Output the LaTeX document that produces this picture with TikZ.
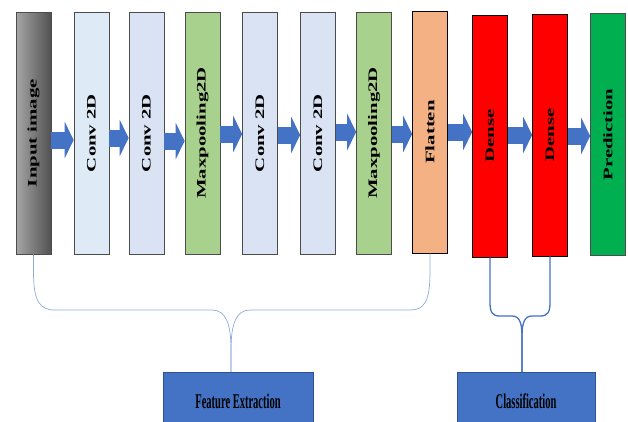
\documentclass[tikz,border=0pt]{standalone}
\usepackage{fontspec}
\usepackage{graphicx}
\usepackage{tikz}
\usetikzlibrary{arrows.meta}
\newfontfamily\lblfont[FakeStretch=1.6]{Liberation Serif}
\newfontfamily\boxfont[FakeStretch=0.5]{Liberation Serif}
\definecolor{convA}{HTML}{DEEBF7}
\definecolor{convB}{HTML}{DAE3F3}
\definecolor{poolgreen}{HTML}{A9D18E}
\definecolor{flatorange}{HTML}{F4B183}
\definecolor{predgreen}{HTML}{00B050}
\definecolor{arrowblue}{HTML}{4472C4}
\definecolor{braceblue}{HTML}{8FAADC}
\definecolor{edgeblue}{HTML}{2F528F}
\newcommand{\vtext}[1]{\rotatebox{90}{\lblfont\bfseries\fontsize{13}{15}\selectfont #1}}
\tikzstyle{layer} = [draw=black!70,line width=0.6pt,minimum width=35pt,minimum height=242pt,inner sep=0pt]
\tikzstyle{flow} = [draw=arrowblue,line width=17pt,-{Triangle[length=9pt,width=36pt]}]
\tikzstyle{brace} = [draw=braceblue,line width=0.7pt]
\tikzstyle{cbrace} = [draw=arrowblue,line width=1.3pt]
\tikzstyle{part} = [fill=arrowblue,draw=edgeblue,line width=0.5pt,minimum width=150pt,minimum height=58pt,font=\boxfont\bfseries\fontsize{21}{23}\selectfont]

\begin{document}
\begin{tikzpicture}[x=1pt,y=-1pt]
\useasboundingbox (0,0) rectangle (628,421);

\node[layer,left color=black!35,right color=black!68] (in) at (33.5,133) {\vtext{Input image}};
\node[layer,fill=convA]                (c1)  at (91.5,133)  {\vtext{Conv 2D}};
\node[layer,fill=convB]                (c2)  at (146.5,133) {\vtext{Conv 2D}};
\node[layer,fill=poolgreen]            (mp1) at (202.5,133) {\vtext{Maxpooling2D}};
\node[layer,fill=convB]                (c3)  at (260,133)   {\vtext{Conv 2D}};
\node[layer,fill=convB]                (c4)  at (318,133)   {\vtext{Conv 2D}};
\node[layer,fill=poolgreen]            (mp2) at (374,133)   {\vtext{Maxpooling2D}};
\node[layer,fill=flatorange,draw=black] (fl) at (430,132)   {\vtext{Flatten}};
\node[layer,fill=red,draw=black]       (d1)  at (490,136)   {\vtext{Dense}};
\node[layer,fill=red,draw=black]       (d2)  at (550,135)   {\vtext{Dense}};
\node[layer,fill=predgreen]            (pr)  at (608,134.5) {\vtext{Prediction}};

\foreach \a/\b/\dy in {in/c1/7,c1/c2/5,c2/mp1/8,mp1/c3/1,c3/c4/2,c4/mp2/-1,mp2/fl/1,fl/d1/0,d1/d2/-1,d2/pr/1}
  \draw[flow] ([yshift=-\dy pt]\a.east) coordinate (s) -- (s -| \b.west);

\coordinate (fetip) at (231,372);
\coordinate (cltip) at (522,372);

\draw[brace] (in.south) -- (33.5,272) .. controls (33.5,302) and (40,310) .. (55,310) -- (212,310)
  .. controls (226,310) and (231,324) .. (231,350) -- (fetip);
\draw[brace] (fl.south) -- (430,272) .. controls (430,302) and (424,310) .. (410,310) -- (250,310)
  .. controls (236,310) and (231,324) .. (231,350) -- (fetip);
\draw[cbrace] (d1.south) -- (490,302) .. controls (490,312) and (492,316) .. (500,316) -- (512,316)
  .. controls (519,316) and (522,322) .. (522,336) -- (cltip);
\draw[cbrace] (d2.south) -- (550,302) .. controls (550,312) and (548,316) .. (540,316) -- (532,316)
  .. controls (525,316) and (522,322) .. (522,336) -- (cltip);

\node[part]                   (fe) at (238,401) {Feature Extraction};
\node[part,minimum width=138pt] (cl) at (526,401) {Classification};
\end{tikzpicture}
\end{document}
